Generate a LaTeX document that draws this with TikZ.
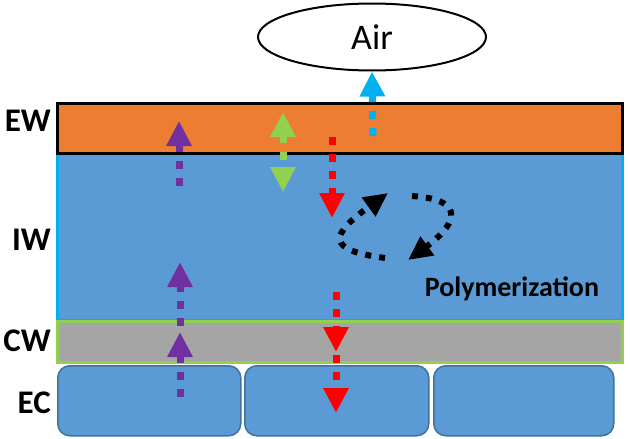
\documentclass[tikz,border=0pt]{standalone}
\usepackage{fontspec}
\setmainfont{Carlito}
\usetikzlibrary{arrows.meta, shapes.geometric, positioning}
\definecolor{ewfill}{HTML}{ED7D31}
\definecolor{iwfill}{HTML}{5B9BD5}
\definecolor{iwline}{HTML}{00B0F0}
\definecolor{cwfill}{HTML}{A5A5A5}
\definecolor{cwline}{HTML}{92D050}
\definecolor{ecline}{HTML}{41719C}
\definecolor{mpurple}{HTML}{7030A0}
\tikzset{
  layer/.style={rectangle, inner sep=0pt, outer sep=0pt, minimum width=565pt, anchor=north west, line width=3pt},
  cell/.style={rectangle, rounded corners=12pt, fill=iwfill, draw=ecline, line width=1.5pt, inner sep=0pt, anchor=north west, minimum height=70pt},
  flow/.style={line width=7pt, dash pattern=on 8pt off 9pt, >={Triangle[length=25pt, width=24pt]}},
  polyloop/.style={line width=6pt, dash pattern=on 6pt off 8pt, ->, >={Triangle[length=24pt, width=22pt]}},
  side/.style={font=\bfseries\fontsize{33}{33}\selectfont, anchor=east, inner sep=0pt},
}

\begin{document}
\begin{tikzpicture}[x=1pt, y=-1pt]
                        \useasboundingbox (0,0) rectangle (630,439);
                        % wall layers
                        \node[layer, fill=iwfill, draw=iwline, minimum height=167pt] (iw) at (57,153) {};
                        \node[layer, fill=cwfill, draw=cwline, minimum height=41pt] (cw) at (57,321) {};
                        \node[layer, fill=ewfill, draw=black, minimum height=50pt] (ew) at (57,103) {};
                        \foreach \i/\x/\w in {1/57/183, 2/244/184, 3/433/180}
                            \node[cell, minimum width=\w pt] (ec\i) at (\x,365) {};

                        \node[side] (lew) at (51,121) {EW};
                        \node[side] (liw) at (51,240) {IW};
                        \node[side] (lcw) at (51,341) {CW};
                        \node[side] (lec) at (51,403) {EC};

                        \node[ellipse, draw, line width=2pt, minimum width=228pt, minimum height=67pt, inner sep=0pt,
                              font=\fontsize{36}{36}\selectfont] (air) at (372,37) {Air};
                        \node[font=\bfseries\fontsize{28}{28}\selectfont] (poly) at (512,289) {Polymerization};

                        % arrow ends
                        \coordinate (b0) at (373,136);
                        \coordinate (p0) at (179,186);
                        \coordinate (p1) at (179,121);
                        \coordinate (p2) at (180,397);
                        \coordinate (p3) at (180,332);
                        \coordinate (p4) at (180,326);
                        \coordinate (p5) at (180,262);
                        \coordinate (g0) at (283,112);
                        \coordinate (g1) at (283,192);
                        \coordinate (r0) at (332,137);
                        \coordinate (r1) at (332,218);
                        \coordinate (r2) at (336,292);
                        \coordinate (r3) at (336,352);
                        \coordinate (r4) at (336,355);
                        \coordinate (r5) at (336,413);
                        \coordinate (k0) at (412,196);
                        \coordinate (k1) at (408,260);
                        \coordinate (k2) at (385,258);
                        \coordinate (k3) at (388,193);

                        \draw[flow, ->, iwline] (b0) -- (air.south);
                        \draw[flow, ->, mpurple] (p0) -- (p1);
                        \draw[flow, ->, mpurple] (p2) -- (p3);
                        \draw[flow, ->, mpurple] (p4) -- (p5);
                        \draw[flow, <->, cwline] (g0) -- (g1);
                        \draw[flow, ->, red] (r0) -- (r1);
                        \draw[flow, ->, red] (r2) -- (r3);
                        \draw[flow, ->, red] (r4) -- (r5);
                        \draw[polyloop] (k0) .. controls (472,200) and (452,228) .. (k1);
                        \draw[polyloop] (k2) .. controls (325,250) and (330,235) .. (k3);
                    \end{tikzpicture}
\end{document}
